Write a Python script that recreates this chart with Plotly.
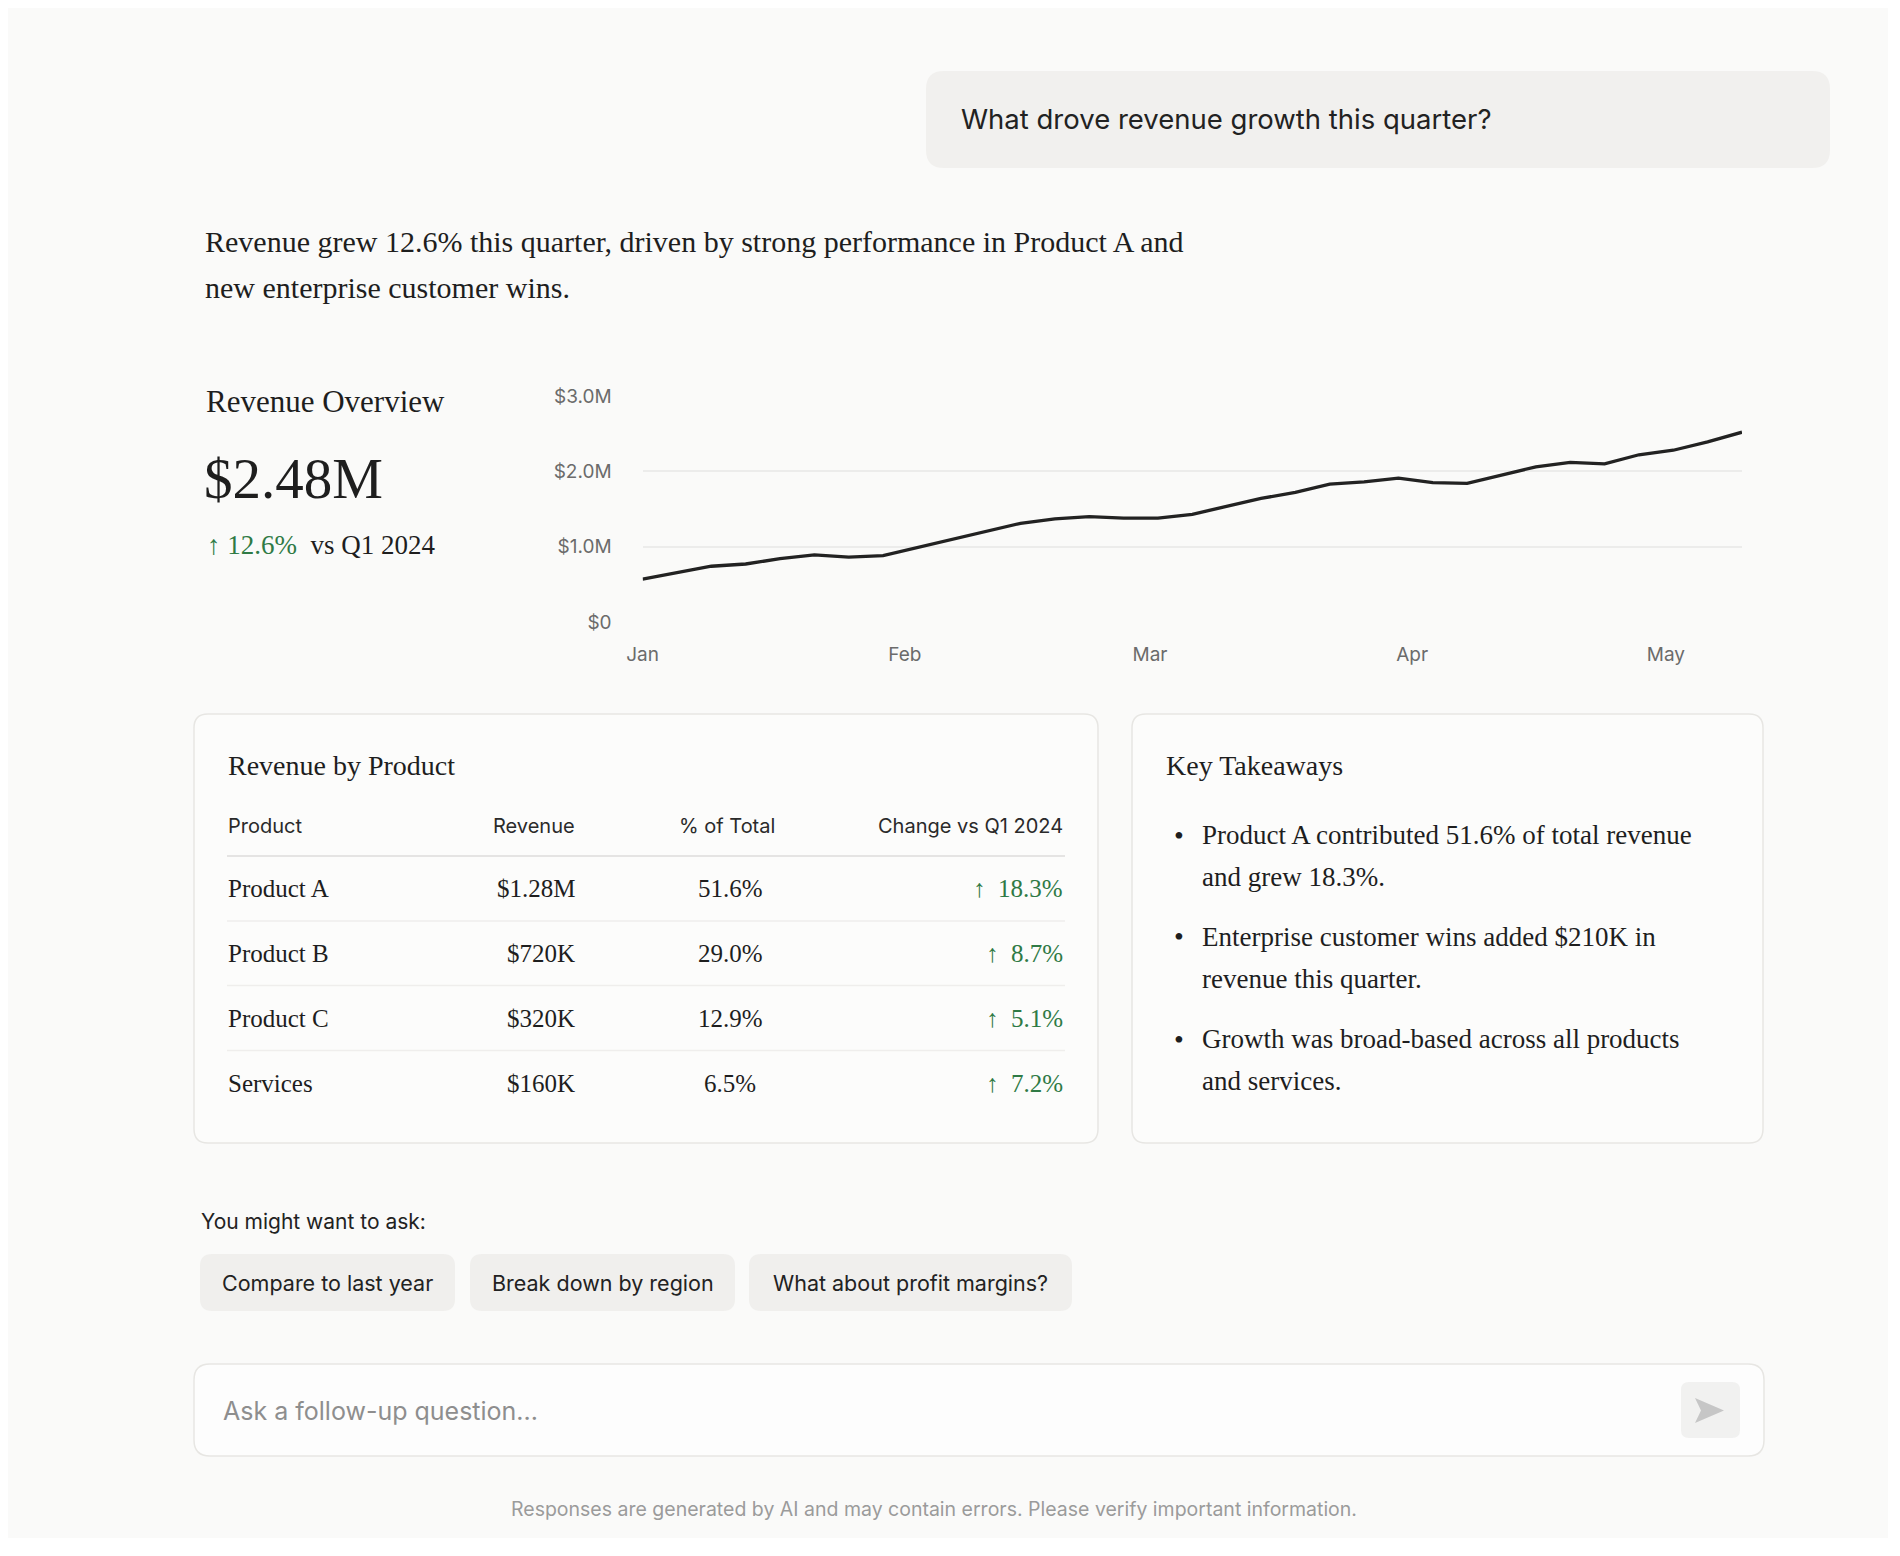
import plotly.graph_objects as go
import pandas as pd

# revenue trend (33 evenly spaced points, Jan 1 -> May 10)
dates = pd.date_range("2024-01-01", "2024-05-10", periods=33)
revenue_m = [0.57, 0.66, 0.74, 0.77, 0.84, 0.89, 0.86, 0.88, 0.99, 1.10, 1.21,
             1.31, 1.37, 1.40, 1.38, 1.38, 1.43, 1.54, 1.64, 1.72, 1.83, 1.86,
             1.91, 1.85, 1.84, 1.95, 2.06, 2.12, 2.10, 2.22, 2.28, 2.39, 2.52]

y_ticks = [0, 1.0, 2.0, 3.0]
y_labels = ["$0", "$1.0M", "$2.0M", "$3.0M"]
month_ticks = ["2024-01-01", "2024-02-01", "2024-03-01", "2024-04-01", "2024-05-01"]
month_labels = ["Jan", "Feb", "Mar", "Apr", "May"]

# revenue by product table
products = ["Product A", "Product B", "Product C", "Services"]
product_revenue = ["$1.28M", "$720K", "$320K", "$160K"]
product_share = [51.6, 29.0, 12.9, 6.5]
product_change = [18.3, 8.7, 5.1, 7.2]
table_headers = ["Product", "Revenue", "% of Total", "Change vs Q1 2024"]

takeaways = [
    ["Product A contributed 51.6% of total revenue", "and grew 18.3%."],
    ["Enterprise customer wins added $210K in", "revenue this quarter."],
    ["Growth was broad-based across all products", "and services."],
]
suggestions = ["Compare to last year", "Break down by region", "What about profit margins?"]

question = "What drove revenue growth this quarter?"
answer_lines = ["Revenue grew 12.6% this quarter, driven by strong performance in Product A and",
                "new enterprise customer wins."]
total_revenue = "$2.48M"
total_growth = 12.6

SERIF = "Liberation Serif"
SANS = "Inter"
INK = "#1e1e1e"
GREEN = "#2f7a45"
W, H = 1880, 1530   # figure kept inside the page body margin


#screen px -> paper coords
def X(x):
    return (x - 8) / W


def Y(y):
    return 1 - (y - 8) / H


def rrect(x0, y0, x1, y1, r):
    pts = [("M", x0 + r, y0), ("L", x1 - r, y0), ("Q", x1, y0, x1, y0 + r),
           ("L", x1, y1 - r), ("Q", x1, y1, x1 - r, y1), ("L", x0 + r, y1),
           ("Q", x0, y1, x0, y1 - r), ("L", x0, y0 + r), ("Q", x0, y0, x0 + r, y0)]
    out = []
    for p in pts:
        c = p[1:]
        coords = " ".join(f"{X(c[i]):.5f},{Y(c[i + 1]):.5f}" for i in range(0, len(c), 2))
        out.append(f"{p[0]}{coords}")
    return " ".join(out) + " Z"


shapes = []
annotations = []


def box(x0, y0, x1, y1, r, fill, line=None):
    shapes.append(dict(type="path", path=rrect(x0, y0, x1, y1, r), xref="paper", yref="paper",
                       fillcolor=fill, line=dict(color=line or fill, width=1.5 if line else 0),
                       layer="below"))


def hline(x0, x1, y, color):
    shapes.append(dict(type="line", xref="paper", yref="paper", x0=X(x0), x1=X(x1),
                       y0=Y(y), y1=Y(y), line=dict(color=color, width=1.5), layer="below"))


def text(x, y, s, size, color=INK, family=SERIF, anchor="left"):
    annotations.append(dict(x=X(x), y=Y(y), xref="paper", yref="paper", text=s, showarrow=False,
                            xanchor=anchor, yanchor="middle",
                            font=dict(family=family, size=size, color=color)))


fig = go.Figure()

#line chart
fig.add_trace(go.Scatter(
    x=dates, y=revenue_m, mode="lines",
    line=dict(color="#222222", width=3.3),
    showlegend=False, hoverinfo="skip"
))

#user question bubble
box(926, 71, 1830, 168, 18, "#f1f0ee")
text(959, 119, question, 27.5, "#222222", SANS)

#answer paragraph
for i, line in enumerate(answer_lines):
    text(203, 241 + i * 46, line, 30)

#overview kpi
text(204, 402, "Revenue Overview", 31)
text(202, 478, total_revenue, 57)
text(205, 545, f"<span style='color:{GREEN}'>↑ {total_growth}%</span>  vs Q1 2024", 27)

#table card
box(194, 714, 1098, 1143, 14, "#fcfcfb", "#e7e6e3")
text(226, 765, "Revenue by Product", 28)
hdr_x = [226, 577, 777, 1065]
hdr_anchor = ["left", "right", "right", "right"]
for h, hx, ha in zip(table_headers, hdr_x, hdr_anchor):
    text(hx, 826, h, 20, "#2a2a2a", SANS, ha)
hline(227, 1065, 856, "#dedddb")
row_y = [889, 953, 1018, 1083]
for i, (p, rv, sh, ch) in enumerate(zip(products, product_revenue, product_share, product_change)):
    y = row_y[i]
    text(226, y, p, 25)
    text(577, y, rv, 25, anchor="right")
    text(730, y, f"{sh:.1f}%", 25, anchor="center")
    text(1065, y, f"↑  {ch:.1f}%", 25, GREEN, anchor="right")
    if i < len(products) - 1:
        hline(227, 1065, (row_y[i] + row_y[i + 1]) / 2, "#efeeec")

#takeaways card
box(1132, 714, 1763, 1143, 14, "#fcfcfb", "#e7e6e3")
text(1164, 765, "Key Takeaways", 28)
for i, lines in enumerate(takeaways):
    y0 = 835 + i * 102
    text(1172, y0, "•", 28)
    for j, line in enumerate(lines):
        text(1200, y0 + j * 42, line, 27)

#suggested questions
text(199, 1221, "You might want to ask:", 21, "#222222", SANS)
chip_x = [(200, 455), (470, 735), (749, 1072)]
for s, (cx0, cx1) in zip(suggestions, chip_x):
    box(cx0, 1254, cx1, 1311, 12, "#f0efed")
    text((cx0 + cx1) / 2, 1283, s, 21.5, "#222222", SANS, "center")

#input box
box(194, 1364, 1764, 1456, 16, "#fdfdfd", "#e7e6e3")
text(221, 1411, "Ask a follow-up question...", 25, "#8e8e8e", SANS)
box(1681, 1382, 1740, 1438, 8, "#f1f1f0")
send = [(1695, 1398), (1724, 1410.5), (1695, 1423), (1701, 1410.5)]
shapes.append(dict(type="path", xref="paper", yref="paper",
                   path="M" + " L".join(f"{X(a):.5f},{Y(b):.5f}" for a, b in send) + " Z",
                   fillcolor="#c6c6c6", line=dict(width=0)))

#footer
text(934, 1509, "Responses are generated by AI and may contain errors. Please verify important information.",
     19.5, "#9b9b9b", SANS, "center")

fig.update_layout(
    width=W, height=H,
    margin=dict(l=0, r=0, t=0, b=0, autoexpand=False),
    paper_bgcolor="#fafaf9",
    plot_bgcolor="rgba(0,0,0,0)",
    shapes=shapes,
    annotations=annotations,
    xaxis=dict(
        domain=[X(642.6), X(1742)],
        type="date",
        range=[dates[0], dates[-1]],
        tickvals=month_ticks, ticktext=month_labels,
        showgrid=False, showline=False, zeroline=False, ticks="",
        ticklabelstandoff=19,
        tickfont=dict(family=SANS, size=19, color="#6b6b6b"),
        fixedrange=True
    ),
    yaxis=dict(
        domain=[Y(622), Y(396)],
        range=[0, 3.0],
        tickvals=y_ticks, ticktext=y_labels,
        showgrid=True, gridcolor="#ececeb", gridwidth=1.5,
        zeroline=False, showline=False, ticks="",
        ticklabelstandoff=30,
        tickfont=dict(family=SANS, size=19, color="#6b6b6b"),
        fixedrange=True
    ),
)

fig.write_html("out.html")
